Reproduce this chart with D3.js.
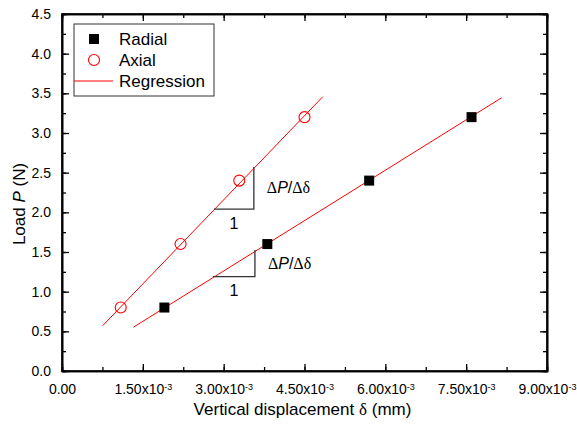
<!DOCTYPE html>
<html><head><meta charset="utf-8">
<script src="https://cdn.jsdelivr.net/npm/d3@7"></script>
<style>
body{margin:0;background:#fff;}
svg{display:block;font-family:Arial,"Liberation Sans",sans-serif;}
</style></head>
<body><svg id="c" width="577" height="425"></svg>
<script>
// ---- data ----
const radialX = [1.90e-3, 3.81e-3, 5.70e-3, 7.60e-3];
const radialP = [0.8, 1.6, 2.4, 3.2];
const axialX = [1.09e-3, 2.20e-3, 3.29e-3, 4.50e-3];
const axialP = [0.8, 1.6, 2.4, 3.2];
const regAxialX = [0.755e-3, 4.84e-3];
const regAxialP = [0.571, 3.458];
const regRadialX = [1.323e-3, 8.16e-3];
const regRadialP = [0.551, 3.445];
const xTicks = [0, 1.5e-3, 3.0e-3, 4.5e-3, 6.0e-3, 7.5e-3, 9.0e-3];
const xTickLabels = ["0.00", "1.50x10", "3.00x10", "4.50x10", "6.00x10", "7.50x10", "9.00x10"];
const yTicks = [0, 0.5, 1.0, 1.5, 2.0, 2.5, 3.0, 3.5, 4.0, 4.5];
const yTickLabels = ["0.0","0.5","1.0","1.5","2.0","2.5","3.0","3.5","4.0","4.5"];
// slope triangles: [x0, x1, yBase, yTop]
const triUpper = [2.82e-3, 3.56e-3, 2.04, 2.57];
const triLower = [2.80e-3, 3.58e-3, 1.19, 1.525];

const svg = d3.select("#c");
const L = 62, R = 547, T = 14, B = 371;
const x = d3.scaleLinear().domain([0, 9e-3]).range([L, R]);
const y = d3.scaleLinear().domain([0, 4.5]).range([B, T]);

const xMinor = d3.range(0, 9.0001e-3, 0.75e-3);
const yMinor = d3.range(0, 4.5001, 0.25);

function styleAxis(g){
  g.select(".domain").attr("stroke","#000").attr("stroke-width",1.6);
  g.selectAll(".tick line").attr("stroke","#000").attr("stroke-width",1.3);
}
// minor ticks
svg.append("g").attr("transform",`translate(0,${B})`)
  .call(d3.axisBottom(x).tickValues(xMinor).tickSize(-4).tickFormat("")).call(styleAxis);
svg.append("g").attr("transform",`translate(0,${T})`)
  .call(d3.axisTop(x).tickValues(xMinor).tickSize(-4).tickFormat("")).call(styleAxis);
svg.append("g").attr("transform",`translate(${L},0)`)
  .call(d3.axisLeft(y).tickValues(yMinor).tickSize(-4).tickFormat("")).call(styleAxis);
svg.append("g").attr("transform",`translate(${R},0)`)
  .call(d3.axisRight(y).tickValues(yMinor).tickSize(-4).tickFormat("")).call(styleAxis);

// major ticks
const gx = svg.append("g").attr("transform",`translate(0,${B})`)
  .call(d3.axisBottom(x).tickValues(xTicks).tickSize(-7).tickSizeOuter(0).tickPadding(13)
    .tickFormat((d,i)=>xTickLabels[i])).call(styleAxis);
gx.selectAll("text").attr("font-size",14).attr("fill","#000")
  .attr("font-family",'Arial,"Liberation Sans",sans-serif')
  .each(function(d,i){
    if(i>0){
      const t = d3.select(this);
      t.append("tspan").attr("dy","-0.45em").attr("font-size",9).text("-3");
    }
  });
svg.append("g").attr("transform",`translate(0,${T})`)
  .call(d3.axisTop(x).tickValues(xTicks).tickSize(-7).tickSizeOuter(0).tickFormat("")).call(styleAxis);
const gy = svg.append("g").attr("transform",`translate(${L},0)`)
  .call(d3.axisLeft(y).tickValues(yTicks).tickSize(-7).tickSizeOuter(0).tickPadding(11)
    .tickFormat((d,i)=>yTickLabels[i])).call(styleAxis);
gy.selectAll("text").attr("font-size",14).attr("fill","#000")
  .attr("font-family",'Arial,"Liberation Sans",sans-serif');
svg.append("g").attr("transform",`translate(${R},0)`)
  .call(d3.axisRight(y).tickValues(yTicks).tickSize(-7).tickSizeOuter(0).tickFormat("")).call(styleAxis);

// frame
svg.append("rect").attr("x",L).attr("y",T).attr("width",R-L).attr("height",B-T)
  .attr("fill","none").attr("stroke","#000").attr("stroke-width",1.6);

// regression lines
const line = d3.line().x(d=>x(d[0])).y(d=>y(d[1]));
svg.append("path").datum(d3.zip(regAxialX, regAxialP)).attr("d",line)
  .attr("stroke","#ff0000").attr("stroke-width",1).attr("fill","none");
svg.append("path").datum(d3.zip(regRadialX, regRadialP)).attr("d",line)
  .attr("stroke","#ff0000").attr("stroke-width",1).attr("fill","none");

// points
svg.append("g").selectAll("rect").data(d3.zip(radialX, radialP)).join("rect")
  .attr("x",d=>x(d[0])-5).attr("y",d=>y(d[1])-5).attr("width",10).attr("height",10).attr("fill","#000");
svg.append("g").selectAll("circle").data(d3.zip(axialX, axialP)).join("circle")
  .attr("cx",d=>x(d[0])).attr("cy",d=>y(d[1])).attr("r",5.5)
  .attr("fill","none").attr("stroke","#ff0000").attr("stroke-width",1.1);

// slope triangles
function tri(t){
  svg.append("path")
    .attr("d",`M${x(t[0])},${y(t[2])}H${x(t[1])}V${y(t[3])}`)
    .attr("fill","none").attr("stroke","#333").attr("stroke-width",1.3);
  const cx = (x(t[0])+x(t[1]))/2;
  svg.append("text").attr("x",cx).attr("y",y(t[2])+14).attr("dy","0.35em")
    .attr("text-anchor","middle").attr("font-size",16).text("1");
  const tt = svg.append("text").attr("x",x(t[1])+13).attr("y",y(t[2])-(y(t[2])-y(t[3]))/2+ (t===triUpper? -1: 0))
    .attr("dy","0.35em").attr("font-size",16);
  tt.append("tspan").attr("font-family",'"Liberation Serif","Times New Roman",serif').text("Δ");
  tt.append("tspan").attr("font-style","italic").text("P");
  tt.append("tspan").text("/");
  tt.append("tspan").attr("font-family",'"Liberation Serif","Times New Roman",serif').text("Δδ");
}
tri(triUpper);
tri(triLower);

// legend
const lg = svg.append("g");
lg.append("rect").attr("x",74).attr("y",24).attr("width",140).attr("height",72)
  .attr("fill","#fff").attr("stroke","#333").attr("stroke-width",1);
lg.append("rect").attr("x",89).attr("y",34).attr("width",10).attr("height",10).attr("fill","#000");
lg.append("circle").attr("cx",94).attr("cy",60).attr("r",5.5).attr("fill","none").attr("stroke","#ff0000").attr("stroke-width",1.1);
lg.append("line").attr("x1",74).attr("x2",113).attr("y1",81).attr("y2",81).attr("stroke","#ff0000").attr("stroke-width",1);
const legNames = ["Radial","Axial","Regression"];
legNames.forEach((n,i)=>{
  lg.append("text").attr("x",119).attr("y",39+i*21).attr("dy","0.35em").attr("font-size",17).text(n);
});

// axis titles
const xt = svg.append("text").attr("x",(L+R)/2 - 2).attr("y",415).attr("text-anchor","middle").attr("font-size",17);
xt.append("tspan").text("Vertical displacement ");
xt.append("tspan").attr("font-family",'"Liberation Serif","Times New Roman",serif').text("δ");
xt.append("tspan").text(" (mm)");
const yt = svg.append("text").attr("transform","translate(25,204) rotate(-90)").attr("text-anchor","middle").attr("font-size",17);
yt.append("tspan").text("Load ");
yt.append("tspan").attr("font-style","italic").text("P");
yt.append("tspan").text(" (N)");
</script></body></html>
